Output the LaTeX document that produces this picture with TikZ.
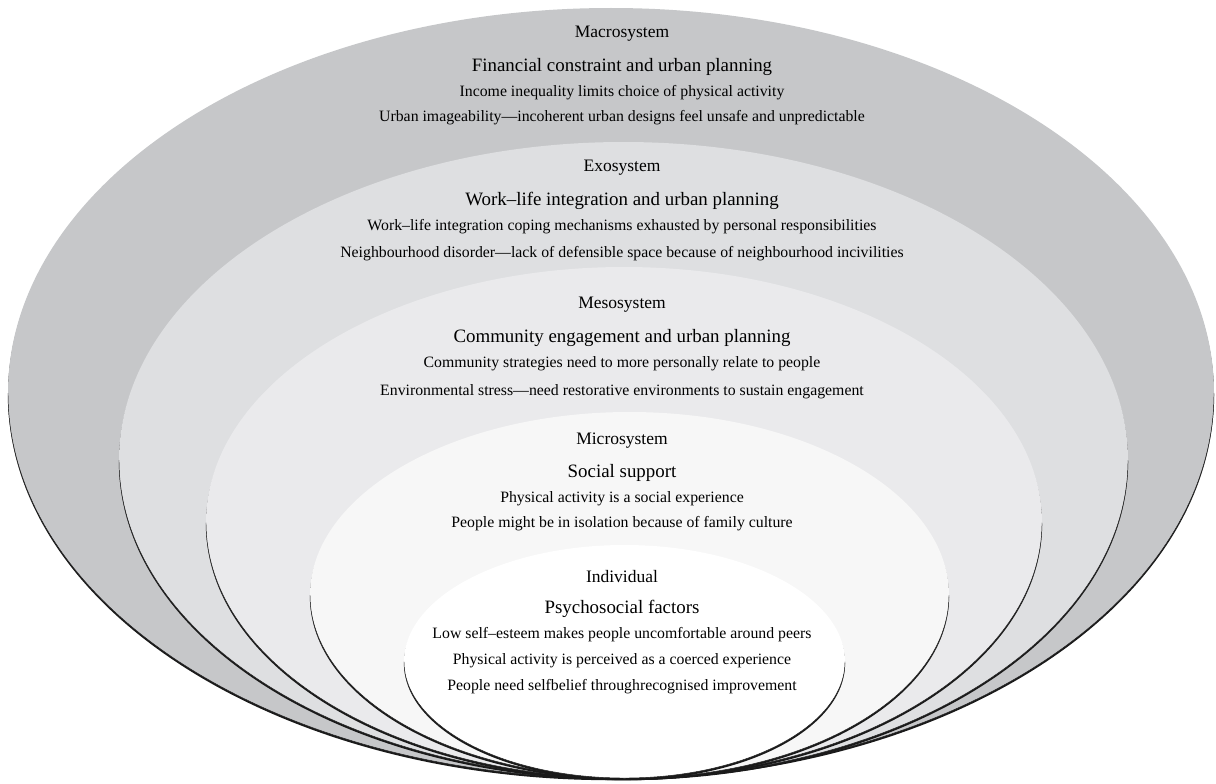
\documentclass[tikz,border=0pt]{standalone}
\usepackage{fontspec}
\setmainfont{Liberation Serif}
\definecolor{ringA}{HTML}{C6C7C9}
\definecolor{ringB}{HTML}{DEDFE1}
\definecolor{ringC}{HTML}{EAEAEC}
\definecolor{ringD}{HTML}{F7F7F7}
\definecolor{ringE}{HTML}{FFFFFF}
\definecolor{edge}{HTML}{1A1A1A}
\tikzset{
  outl/.style={draw=edge, line width=0.45pt},
  sysname/.style={font=\fontsize{17.5}{19}\selectfont, inner sep=0pt},
  headtxt/.style={font=\fontsize{18.9}{20}\selectfont, inner sep=0pt},
  bodytxt/.style={font=\fontsize{15.8}{17}\selectfont, inner sep=0pt},
}
\newcommand{\ringlayer}[5]{%
  % #1 cx, #2 cy, #3 rx, #4 ry, #5 colour
  \fill[edge] (#1,#2+2.2) ellipse[x radius=#3, y radius=#4];
  \fill[#5] (#1,#2) ellipse[x radius=#3, y radius=#4];
  \draw[outl] (#1+#3,#2) arc[start angle=0, end angle=180, x radius=#3, y radius=#4];
}
\begin{document}
\begin{tikzpicture}[x=1pt,y=-1pt]
\useasboundingbox (0,0) rectangle (1216,784);
\fill[white] (0,0) rectangle (1216,784);
\ringlayer{611}{393}{603}{385}{ringA}
\ringlayer{623.5}{460}{504.5}{318}{ringB}
\ringlayer{624}{522.5}{418}{255.5}{ringC}
\ringlayer{629.5}{595}{319.5}{183}{ringD}
\ringlayer{624.5}{661.5}{220.5}{116.5}{ringE}

\node[sysname] (ma) at (622,34) {Macrosystem};
\node[headtxt] (mah) at (622,67) {Financial constraint and urban planning};
\node[bodytxt] (ma1) at (622,93) {Income inequality limits choice of physical activity};
\node[bodytxt] (ma2) at (622,118) {Urban imageability—incoherent urban designs feel unsafe and unpredictable};

\node[sysname] (ex) at (622,168) {Exosystem};
\node[headtxt] (exh) at (622,201) {Work–life integration and urban planning};
\node[bodytxt] (ex1) at (622,227) {Work–life integration coping mechanisms exhausted by personal responsibilities};
\node[bodytxt] (ex2) at (622,254) {Neighbourhood disorder—lack of defensible space because of neighbourhood incivilities};

\node[sysname] (me) at (622,305) {Mesosystem};
\node[headtxt] (meh) at (622,338) {Community engagement and urban planning};
\node[bodytxt] (me1) at (622,364) {Community strategies need to more personally relate to people};
\node[bodytxt] (me2) at (622,392) {Environmental stress—need restorative environments to sustain engagement};

\node[sysname] (mi) at (622,441) {Microsystem};
\node[headtxt] (mih) at (622,473) {Social support};
\node[bodytxt] (mi1) at (622,499) {Physical activity is a social experience};
\node[bodytxt] (mi2) at (622,524) {People might be in isolation because of family culture};

\node[sysname] (in) at (622,577) {Individual};
\node[headtxt] (inh) at (622,609) {Psychosocial factors};
\node[bodytxt] (in1) at (622,635) {Low self–esteem makes people uncomfortable around peers};
\node[bodytxt] (in2) at (622,661) {Physical activity is perceived as a coerced experience};
\node[bodytxt] (in3) at (622,687) {People need selfbelief throughrecognised improvement};
\end{tikzpicture}
\end{document}
